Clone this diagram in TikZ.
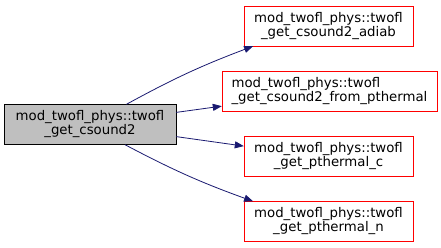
\documentclass[tikz,border=0pt]{standalone}
\usepackage{fontspec}
\setmainfont{DejaVu Sans}
\usetikzlibrary{positioning,arrows.meta}

\begin{document}
\begin{tikzpicture}[x=1pt, y=-1pt,
    srcbox/.style={draw=black, fill=black!25, align=center, font=\fontsize{13.3}{14}\selectfont, minimum width=172pt, minimum height=40pt, inner sep=0pt},
    callbox/.style={draw=red, fill=white, align=center, font=\fontsize{13.3}{14}\selectfont, minimum width=169pt, minimum height=40pt, inner sep=0pt},
    arrow/.style={-{Triangle[length=9pt,width=7pt]}, line width=0.8pt, draw={rgb,255:red,25;green,25;blue,112}}
]
\useasboundingbox (0,0) rectangle (441,248);

% Nodo de partida
\node[srcbox] (csound) at (90,124.5) {mod\_twofl\_phys::twofl\\\_get\_csound2};

% Funciones llamadas
\node[callbox] (adiab)   at (328.5,26)    {mod\_twofl\_phys::twofl\\\_get\_csound2\_adiab};
\node[callbox, align=left, minimum width=215pt] (frompth) at (329.5,91) {mod\_twofl\_phys::twofl\\\_get\_csound2\_from\_pthermal};
\node[callbox] (pthc)    at (328.5,156.5) {mod\_twofl\_phys::twofl\\\_get\_pthermal\_c};
\node[callbox] (pthn)    at (328.5,221.5) {mod\_twofl\_phys::twofl\\\_get\_pthermal\_n};

% Llamadas
\draw[arrow] (csound.29)  to[bend left=4] (adiab.195);
\draw[arrow] (csound.8)   -- (frompth.188);
\draw[arrow] (csound.-8)  -- (pthc.173);
\draw[arrow] (csound.-30) to[bend right=4] (pthn.165);
\end{tikzpicture}
\end{document}
